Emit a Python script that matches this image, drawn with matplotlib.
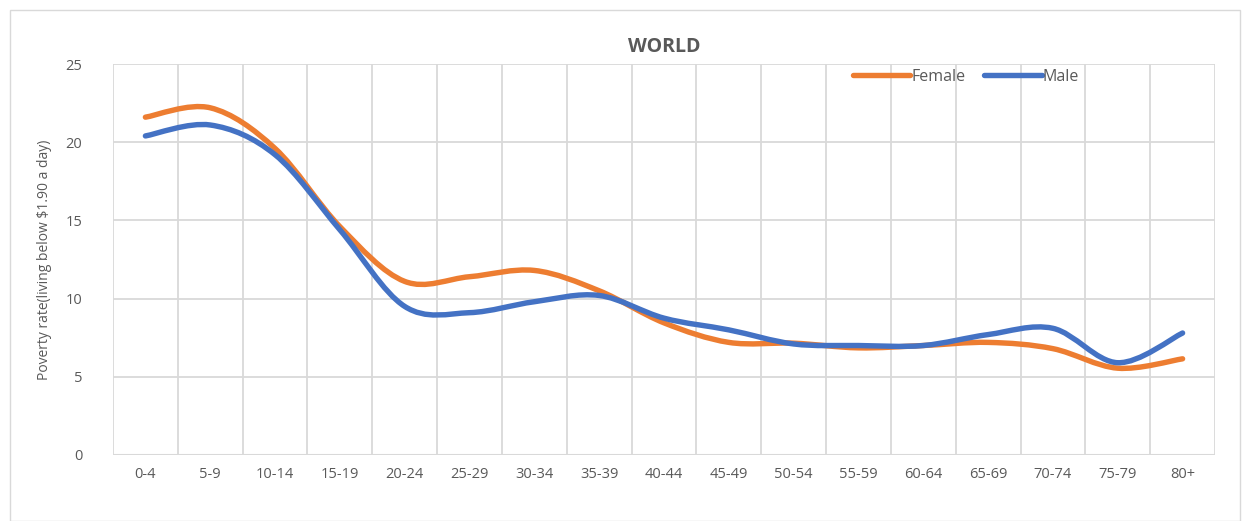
import numpy as np
import matplotlib
matplotlib.use("Agg")
import matplotlib.pyplot as plt
from matplotlib.path import Path
from matplotlib.patches import PathPatch, Rectangle
from matplotlib.lines import Line2D

categories = ["0-4", "5-9", "10-14", "15-19", "20-24", "25-29", "30-34", "35-39",
              "40-44", "45-49", "50-54", "55-59", "60-64", "65-69", "70-74", "75-79", "80+"]
female = [21.6, 22.2, 19.6, 14.6, 11.1, 11.4, 11.8, 10.5, 8.45, 7.2, 7.15, 6.85, 7.0, 7.2, 6.8, 5.55, 6.15]
male = [20.4, 21.1, 19.2, 14.4, 9.5, 9.1, 9.8, 10.2, 8.75, 8.0, 7.1, 7.0, 7.0, 7.7, 8.1, 5.9, 7.8]
yticks = [0, 5, 10, 15, 20, 25]

ORANGE = "#ED7D31"
BLUE = "#4472C4"
TXT = "#595959"
GRID = "#D9D9D9"

plt.rcParams['font.family'] = ['Open Sans', 'DejaVu Sans']

fig = plt.figure(figsize=(12.46, 5.21), dpi=100)
fig.patches.append(Rectangle((10/1246, 0.0), 1230/1246, 1 - 10/521, transform=fig.transFigure,
                             fill=False, edgecolor="#D9D9D9", linewidth=1.0))
ax = fig.add_axes([113/1246, 1 - 455/521, (1215 - 113)/1246, (455 - 64)/521])


def smooth_path(xs, ys):
    xs = np.asarray(xs, float)
    ys = np.asarray(ys, float)
    n = len(xs)
    verts = [(xs[0], ys[0])]
    codes = [Path.MOVETO]
    for i in range(n - 1):
        p0 = (xs[max(i - 1, 0)], ys[max(i - 1, 0)])
        p1 = (xs[i], ys[i])
        p2 = (xs[i + 1], ys[i + 1])
        p3 = (xs[min(i + 2, n - 1)], ys[min(i + 2, n - 1)])
        c1 = (p1[0] + (p2[0] - p0[0]) / 6, p1[1] + (p2[1] - p0[1]) / 6)
        c2 = (p2[0] - (p3[0] - p1[0]) / 6, p2[1] - (p3[1] - p1[1]) / 6)
        verts += [c1, c2, p2]
        codes += [Path.CURVE4] * 3
    return Path(verts, codes)


x = np.arange(len(categories))
for vals, col in [(female, ORANGE), (male, BLUE)]:
    ax.add_patch(PathPatch(smooth_path(x, vals), fill=False, edgecolor=col,
                           linewidth=3.9, capstyle='round', joinstyle='round', zorder=3))

ax.set_xlim(-0.5, len(categories) - 0.5)
ax.set_ylim(0, 25)
ax.set_yticks(yticks)
ax.set_xticks(x)
ax.set_xticklabels(categories)
ax.set_xticks(np.arange(-0.5, len(categories)), minor=True)
ax.grid(True, axis='y', color=GRID, linewidth=1.3, zorder=0)
ax.grid(True, axis='x', which='minor', color=GRID, linewidth=1.3, zorder=0)
ax.tick_params(axis='both', which='both', length=0, colors=TXT, labelsize=10.5)
ax.tick_params(axis='x', pad=9)
ax.tick_params(axis='y', pad=22)
for s in ax.spines.values():
    s.set_visible(False)
ax.axhline(0, color=GRID, linewidth=1.5, zorder=1)

ax.set_title("WORLD", fontsize=14, fontweight='bold', color=TXT, pad=9)
ax.set_ylabel("Poverty rate(living below \\$1.90 a day)", color=TXT, fontsize=10, labelpad=10)

handles = [Line2D([], [], color=ORANGE, linewidth=3.9, solid_capstyle='round'),
           Line2D([], [], color=BLUE, linewidth=3.9, solid_capstyle='round')]
ax.legend(handles, ["Female", "Male"], loc='upper center', bbox_to_anchor=(0.774, 1.024),
          ncol=2, frameon=False, fontsize=11.5, handlelength=3.6, handletextpad=0.05,
          columnspacing=1.2, labelcolor=TXT)

fig.savefig("out.png", dpi=100)
